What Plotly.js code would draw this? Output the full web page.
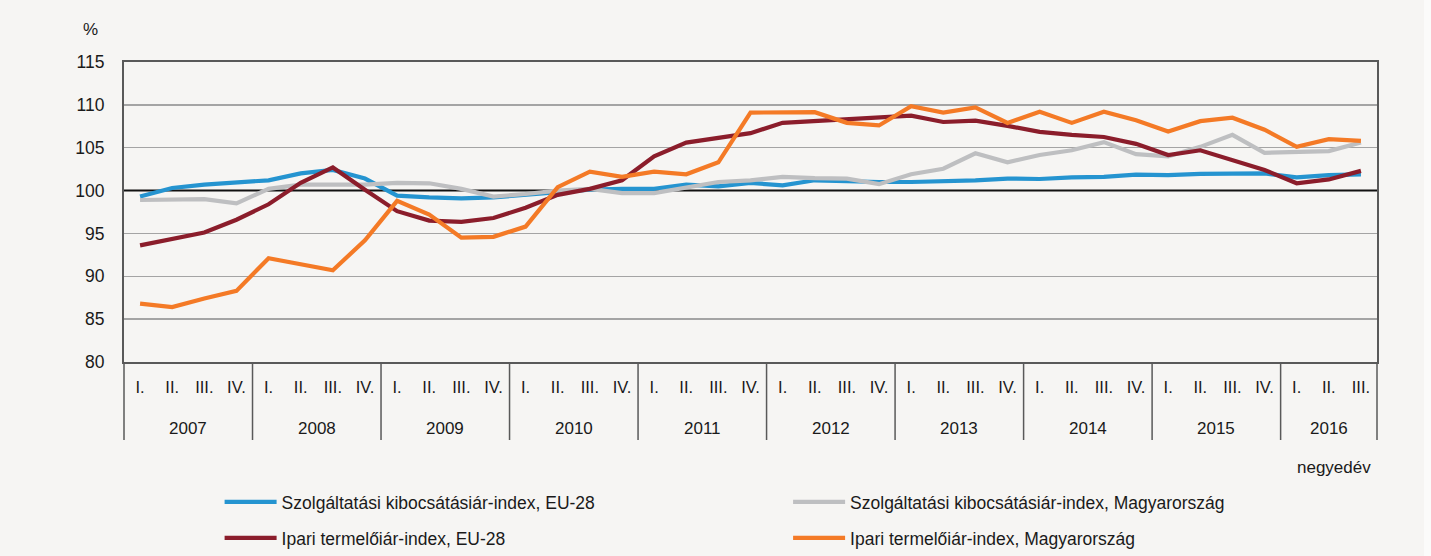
<!DOCTYPE html>
<html>
<head>
<meta charset="utf-8">
<script src="https://cdn.plot.ly/plotly-3.0.1.min.js"></script>
<style>
  html, body { margin: 0; padding: 0; background: #fbfbfa; }
  #chart { width: 1424px; height: 556px; }
</style>
</head>
<body>
<div id="chart"></div>
<script>
// Years and quarter labels
const years = ['2007', '2008', '2009', '2010', '2011', '2012', '2013', '2014', '2015', '2016'];
const quarterLabels = ['I.', 'II.', 'III.', 'IV.'];
const quartersPerYear = [4, 4, 4, 4, 4, 4, 4, 4, 4, 3];

// Series names
const seriesNames = [
  'Szolgáltatási kibocsátásiár-index, EU-28',
  'Szolgáltatási kibocsátásiár-index, Magyarország',
  'Ipari termelőiár-index, EU-28',
  'Ipari termelőiár-index, Magyarország'
];

// Values (%), 2007 Q1 .. 2016 Q3
const servicesEU = [
  99.3, 100.3, 100.7, 101.0,
  101.2, 102.0, 102.4, 101.4,
  99.4, 99.2, 99.1, 99.2,
  99.5, 99.8, 100.1, 100.2,
  100.2, 100.7, 100.5, 100.9,
  100.6, 101.2, 101.05, 101.0,
  101.0, 101.05, 101.2, 101.4,
  101.35, 101.55, 101.6, 101.85,
  101.8, 101.95, 101.95, 102.0,
  101.55, 101.8, 101.9
];
const servicesHU = [
  98.9, 98.9, 99.0, 98.5,
  100.2, 100.7, 100.7, 100.7,
  100.9, 100.85, 100.2, 99.3,
  99.6, 100.0, 100.2, 99.7,
  99.7, 100.35, 101.0, 101.2,
  101.6, 101.45, 101.4, 100.75,
  101.9, 102.55, 104.35, 103.3,
  104.15, 104.7, 105.65, 104.25,
  104.0, 105.1, 106.5, 104.4,
  104.5, 104.6, 105.6
];
const industryEU = [
  93.6, 94.4, 95.1, 96.6,
  98.4, 100.9, 102.7, 100.1,
  97.6, 96.5, 96.35, 96.8,
  98.0, 99.5, 100.2, 101.2,
  104.0, 105.6, 106.1, 106.7,
  107.9, 108.1, 108.4, 108.55,
  108.75, 108.0, 108.15, 107.55,
  106.85, 106.5, 106.25, 105.45,
  104.15, 104.7, 103.55, 102.4,
  100.85, 101.3, 102.3
];
const industryHU = [
  86.8, 86.4, 87.4, 88.3,
  92.1, 91.4, 90.7, 94.2,
  98.8, 97.2, 94.5, 94.6,
  95.8, 100.4, 102.2, 101.6,
  102.2, 101.9, 103.3, 109.1,
  109.15, 109.15, 107.9, 107.6,
  109.85, 109.1, 109.7, 107.9,
  109.2, 107.9, 109.2, 108.2,
  106.9, 108.1, 108.5, 107.1,
  105.1, 106.0, 105.8
];

const seriesColors = ['#2594d0', '#bebfc1', '#8b1d2b', '#f47a26'];

// Build categories (one per quarter), quarter tick labels, year centres and year boundaries
const categories = [], quarterText = [];
const yearCenters = [], yearBounds = [-0.5];
let idx = 0;
years.forEach((y, i) => {
  const n = quartersPerYear[i];
  yearCenters.push(idx + (n - 1) / 2);
  for (let q = 0; q < n; q++) {
    categories.push(y + ' ' + quarterLabels[q]);
    quarterText.push(quarterLabels[q]);
  }
  idx += n;
  yearBounds.push(idx - 0.5);
});
const xRange = [-0.5, categories.length - 0.5];
const toPaper = v => (v - xRange[0]) / (xRange[1] - xRange[0]);

const allValues = [servicesEU, servicesHU, industryEU, industryHU];
const legendIds = ['legend', 'legend2', 'legend3', 'legend4'];

const traces = allValues.map((vals, k) => ({
  type: 'scatter',
  mode: 'lines',
  x: categories,
  y: vals,
  name: seriesNames[k],
  line: { color: seriesColors[k], width: 4.2 },
  legend: legendIds[k],
  hoverinfo: 'skip'
}));

const FONT = 'Liberation Sans, Arial, sans-serif';
const TXT = '#1a1a1a';
const BG = '#f6f5f3';
const AXC = '#595959';

function legendAt(x, y) {
  return {
    x: x, y: y, xanchor: 'left', yanchor: 'middle',
    orientation: 'h', bgcolor: 'rgba(0,0,0,0)', borderwidth: 0,
    itemwidth: 52,
    font: { family: FONT, size: 17.5, color: TXT }
  };
}

// Year labels below the quarter labels
const yearAnnotations = years.map((y, i) => ({
  text: y, xref: 'paper', yref: 'paper',
  x: toPaper(yearCenters[i]), y: -0.22,
  xanchor: 'center', yanchor: 'middle', showarrow: false,
  font: { family: FONT, size: 17, color: TXT }
}));

// Year dividers under the axis
const dividerShapes = yearBounds.map(b => ({
  type: 'line', xref: 'paper', yref: 'paper',
  x0: toPaper(b), x1: toPaper(b), y0: 0, y1: -0.26,
  line: { color: AXC, width: 1.5 },
  layer: 'above'
}));

const layout = {
  width: 1424,
  height: 556,
  margin: { l: 124, r: 47, t: 62, b: 194, autoexpand: false },
  paper_bgcolor: BG,
  plot_bgcolor: BG,
  font: { family: FONT, size: 17, color: TXT },
  showlegend: true,
  legend: legendAt(0.0763, -0.4667),
  legend2: legendAt(0.530, -0.4667),
  legend3: legendAt(0.0763, -0.5867),
  legend4: legendAt(0.530, -0.5867),
  xaxis: {
    type: 'category',
    categoryorder: 'array',
    categoryarray: categories,
    range: xRange,
    tickmode: 'array',
    tickvals: categories,
    ticktext: quarterText,
    showgrid: false,
    showline: true,
    mirror: true,
    linecolor: AXC,
    linewidth: 2,
    ticks: '',
    ticklabelstandoff: 9,
    tickfont: { family: FONT, size: 16.5, color: TXT },
    fixedrange: true
  },
  yaxis: {
    range: [80, 115],
    dtick: 5,
    tick0: 80,
    showgrid: true,
    gridcolor: '#a4a4a4',
    gridwidth: 1.5,
    zeroline: false,
    showline: true,
    mirror: true,
    linecolor: AXC,
    linewidth: 2,
    ticks: '',
    ticklabelstandoff: 14,
    tickfont: { family: FONT, size: 17.5, color: TXT },
    fixedrange: true
  },
  shapes: [{
    type: 'line', xref: 'x', yref: 'y',
    x0: xRange[0], x1: xRange[1], y0: 100, y1: 100,
    line: { color: '#111111', width: 2 },
    layer: 'between'
  }].concat(dividerShapes),
  annotations: [
    { text: '%', xref: 'paper', yref: 'paper', x: -0.027, y: 1.107,
      xanchor: 'center', yanchor: 'middle', showarrow: false,
      font: { family: FONT, size: 17, color: TXT } },
    { text: 'negyedév', xref: 'paper', yref: 'paper', x: 0.9968, y: -0.353,
      xanchor: 'right', yanchor: 'middle', showarrow: false,
      font: { family: FONT, size: 17, color: TXT } }
  ].concat(yearAnnotations)
};

Plotly.newPlot('chart', traces, layout, { displayModeBar: false, staticPlot: true });
</script>
</body>
</html>
